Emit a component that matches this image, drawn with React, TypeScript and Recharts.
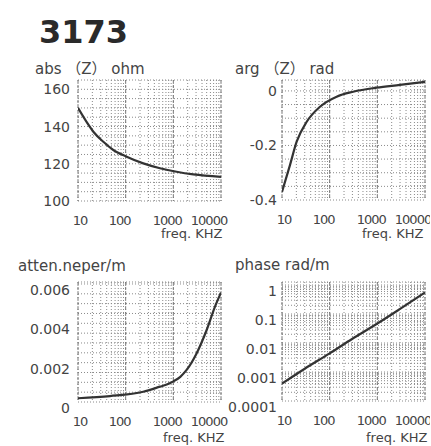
import React from 'react';
import { LineChart, Line, XAxis, YAxis, CartesianGrid } from 'recharts';

const FONT = "'DejaVu Sans', 'Noto Sans CJK JP', sans-serif";
const INK = '#444';
const GRID = '#8a8a8a';

// shared x axis (freq. KHz, log)
const freqTicks = [10, 100, 1000, 10000];

// abs(Z) ohm
const absFreq = [10, 15, 21, 34, 55, 105, 234, 525, 1170, 2620, 10000];
const absZ = [150, 142.6, 137.2, 131.8, 127.4, 123.8, 120.2, 117.6, 115.7, 114.3, 113];
const absTicks = [100, 120, 140, 160];

// arg(Z) rad
const argFreq = [10, 14.7, 20.3, 33, 62.6, 140, 312, 966, 2970, 10000];
const argZ = [-0.37, -0.272, -0.186, -0.113, -0.058, -0.021, -0.003, 0.012, 0.022, 0.033];
const argTicks = [-0.4, -0.2, 0];

// attenuation neper/m
const attenFreq = [10, 47, 234, 525, 750, 1000, 1400, 1900, 3090, 5000, 7450, 10000];
const atten = [0.00019, 0.0003, 0.00052, 0.00078, 0.0009, 0.00105, 0.00128, 0.00163, 0.00248, 0.00366, 0.00484, 0.00556];
const attenTicks = [0, 0.002, 0.004, 0.006];

// phase rad/m
const phaseFreq = [10, 30, 100, 300, 1000, 3000, 10000];
const phase = [0.0004, 0.0013, 0.0044, 0.014, 0.047, 0.15, 0.55];
const phaseTicks = [0.0001, 0.001, 0.01, 0.1, 1];

const toRows = (fs: number[], vs: number[]) => fs.map((f, i) => ({ f, v: vs[i] }));

// grid helpers
const logLines = (lo: number, hi: number) => {
  const out: number[] = [];
  for (let d = lo; d < hi * 0.999; d *= 10) for (let k = 1; k < 10; k++) out.push(d * k);
  out.push(hi);
  return out;
};
const linLines = (lo: number, hi: number, step: number) => {
  const out: number[] = [];
  for (let k = 0; lo + k * step <= hi + step * 1e-6; k++) out.push(lo + k * step);
  return out;
};

const xNudge: Record<number, number> = { 10: 2, 100: -6, 1000: -6, 10000: -12 };

const XTick = (props: any) => {
  const { x, y, payload } = props;
  return (
    <text x={x + (xNudge[payload.value] || 0)} y={y} dy="0.71em" textAnchor="middle"
      fontSize={13} letterSpacing={-1} fill={INK} fontFamily={FONT}>
      {payload.value}
    </text>
  );
};

const makeYTick = (shift: number) => (props: any) => {
  const { x, y, payload } = props;
  return (
    <text x={x} y={y + shift} dy="0.36em" textAnchor="end" fontSize={14} fill={INK} fontFamily={FONT}>
      {String(payload.value)}
    </text>
  );
};

interface PanelProps {
  left: number;
  top: number;
  width: number;
  height: number;
  right: number;
  data: { f: number; v: number }[];
  yDomain: [number, number];
  yTicks: number[];
  yLog?: boolean;
  hLines: number[];
  gap: number;
  shift: number;
}

function Panel({ left, top, width, height, right, data, yDomain, yTicks, yLog, hLines, gap, shift }: PanelProps) {
  return (
    <div style={{ position: 'absolute', left, top }}>
      <LineChart width={width} height={height} data={data} margin={{ top: 10, right, left: 0, bottom: 0 }}>
        <CartesianGrid stroke={GRID} strokeDasharray="1 2" horizontalValues={hLines} verticalValues={logLines(10, 10000)} />
        <CartesianGrid stroke="#777" strokeDasharray="3 2" horizontal={false} verticalValues={freqTicks} />
        <XAxis dataKey="f" type="number" scale="log" domain={[10, 10000]} ticks={freqTicks} interval={0}
          allowDataOverflow axisLine={false} tickLine={false} tickSize={0} tickMargin={15} height={30} tick={XTick} />
        <YAxis type="number" scale={yLog ? 'log' : 'auto'} domain={yDomain} ticks={yTicks} interval={0}
          allowDataOverflow axisLine={false} tickLine={false} tickSize={0} tickMargin={gap} width={78} tick={makeYTick(shift)} />
        <Line dataKey="v" type="monotone" stroke="#333" strokeWidth={2.2} dot={false} isAnimationActive={false} />
      </LineChart>
    </div>
  );
}

const Txt = ({ x, y, size, children, color = INK, weight = 'normal' }: { x: number; y: number; size: number; children: React.ReactNode; color?: string; weight?: string }) => (
  <div style={{ position: 'absolute', left: x, top: y, fontSize: size, lineHeight: `${size}px`, fontFamily: FONT, fontWeight: weight as any, color, whiteSpace: 'pre' }}>
    {children}
  </div>
);

export default function App() {
  return (
    <div style={{ position: 'absolute', left: 0, top: 0, width: 431, height: 446, background: '#fff', overflow: 'hidden' }}>
      <Txt x={39} y={16} size={32} color="#2a2a2a" weight="bold">3173</Txt>
      <Txt x={35} y={62} size={15}>abs （Z） ohm</Txt>
      <Txt x={235} y={62} size={15}>arg （Z） rad</Txt>
      <Txt x={18} y={259} size={15}>atten.neper/m</Txt>
      <Txt x={235} y={258} size={15}>phase rad/m</Txt>

      <Panel left={0} top={70} width={229} height={161} right={8} data={toRows(absFreq, absZ)}
        yDomain={[100, 165]} yTicks={absTicks} hLines={linLines(100, 165, 5)} gap={8} shift={0} />
      <Panel left={204} top={70} width={226} height={160} right={5} data={toRows(argFreq, argZ)}
        yDomain={[-0.4, 0.04]} yTicks={argTicks} hLines={[...linLines(-0.4, 0, 0.05), 0.04]} gap={5} shift={0} />
      <Panel left={0} top={272} width={229} height={160} right={8} data={toRows(attenFreq, atten)}
        yDomain={[0, 0.0061]} yTicks={attenTicks} hLines={[...linLines(0, 0.006, 0.0005), 0.0061]} gap={8} shift={6} />
      <Panel left={204} top={272} width={226} height={159} right={5} data={toRows(phaseFreq, phase)}
        yDomain={[0.0001, 1.27]} yTicks={phaseTicks} yLog hLines={[...logLines(0.0001, 1), 1.27]} gap={5} shift={6} />

      <Txt x={161} y={227} size={13}>freq. KHZ</Txt>
      <Txt x={362} y={227} size={13}>freq. KHZ</Txt>
      <Txt x={163} y={431} size={13}>freq. KHZ</Txt>
      <Txt x={366} y={431} size={13}>freq. KHZ</Txt>
    </div>
  );
}
